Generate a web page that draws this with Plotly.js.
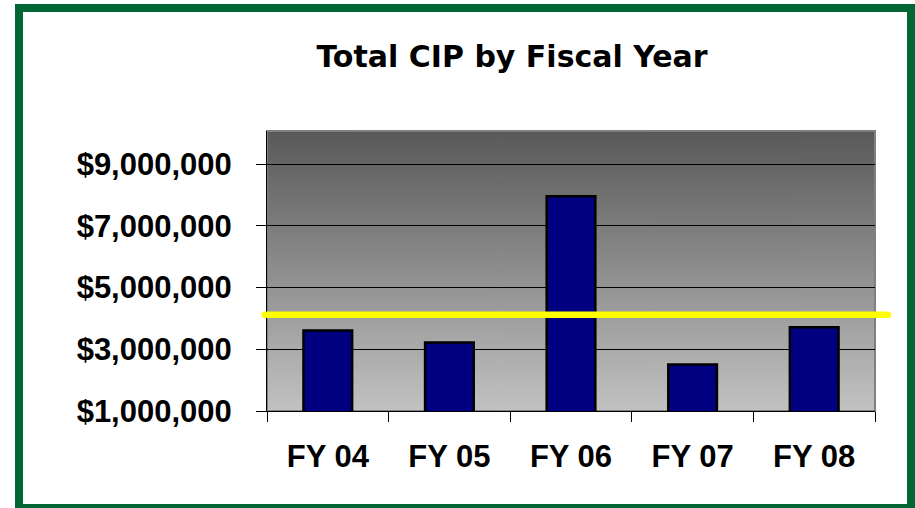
<!DOCTYPE html>
<html>
<head>
<meta charset="utf-8">
<script src="https://cdn.plot.ly/plotly-3.0.1.min.js"></script>
<style>
  html, body { margin: 0; padding: 0; background: #ffffff; overflow: hidden; }
  #wrap { position: relative; width: 915px; height: 508px; overflow: hidden; }
  #chart { width: 915px; height: 508px; }
  #frame { position: absolute; left: 15px; top: 4px; width: 900px; height: 508px;
           box-sizing: border-box; border: 8px solid #006633; pointer-events: none; }
</style>
</head>
<body>
<div id="wrap">
  <div id="chart"></div>
  <div id="frame"></div>
</div>
<script>
// ---- data ----
var categories = ['FY 04', 'FY 05', 'FY 06', 'FY 07', 'FY 08'];
var cipTotals = [3610000, 3220000, 7960000, 2510000, 3710000];
var referenceLevel = 4120000;
var yTickValues = [1000000, 3000000, 5000000, 7000000, 9000000];
var yTickLabels = ['$1,000,000', '$3,000,000', '$5,000,000', '$7,000,000', '$9,000,000'];
var chartTitle = 'Total CIP by Fiscal Year';

// gradient background for the plot area
var cv = document.createElement('canvas');
cv.width = 4; cv.height = 256;
var ctx = cv.getContext('2d');
var g = ctx.createLinearGradient(0, 0, 0, 256);
g.addColorStop(0, '#595959');
g.addColorStop(1, '#c2c2c2');
ctx.fillStyle = g;
ctx.fillRect(0, 0, 4, 256);
var bgUrl = cv.toDataURL('image/png');

var tickFont = {family: 'Arial, "Liberation Sans", sans-serif', size: 31, color: '#000000', weight: 'bold'};

var trace = {
  type: 'bar',
  x: categories,
  y: cipTotals,
  marker: {color: '#000080', line: {color: '#000000', width: 2.5}},
  hoverinfo: 'none'
};

var layout = {
  width: 915,
  height: 508,
  margin: {l: 267, r: 40, t: 131, b: 97, pad: 0},
  paper_bgcolor: '#ffffff',
  plot_bgcolor: 'rgba(0,0,0,0)',
  showlegend: false,
  bargap: 0.6,
  title: {
    text: chartTitle,
    font: {family: '"Comic Sans MS", "DejaVu Sans", sans-serif', size: 30, color: '#000000', weight: 'bold'},
    xref: 'container', yref: 'container',
    x: 512 / 915, xanchor: 'center',
    y: 1 - 56 / 508, yanchor: 'middle'
  },
  xaxis: {
    type: 'category',
    showgrid: false,
    showline: true, linecolor: '#000000', linewidth: 1,
    ticks: 'outside', tickson: 'boundaries', ticklen: 10, tickcolor: '#000000', tickwidth: 1,
    tickfont: tickFont,
    ticklabelstandoff: 18,
    zeroline: false,
    fixedrange: true
  },
  yaxis: {
    range: [1000000, 10070000],
    tickvals: yTickValues,
    ticktext: yTickLabels,
    showgrid: true, gridcolor: '#000000', gridwidth: 1,
    showline: true, linecolor: '#000000', linewidth: 1,
    ticks: 'outside', ticklen: 10, tickcolor: '#000000', tickwidth: 1,
    tickfont: tickFont,
    ticklabelstandoff: 18,
    zeroline: false,
    fixedrange: true
  },
  images: [{
    source: bgUrl, xref: 'paper', yref: 'paper',
    x: 0, y: 1, sizex: 1, sizey: 1, xanchor: 'left', yanchor: 'top',
    sizing: 'stretch', layer: 'below'
  }],
  shapes: [
    {type: 'rect', xref: 'paper', yref: 'paper', x0: 0, x1: 1, y0: 0, y1: 1,
     line: {color: '#808080', width: 2}, fillcolor: 'rgba(0,0,0,0)', layer: 'below'},
    {type: 'line', xref: 'paper', yref: 'y', x0: -0.004, x1: 1.0214,
     y0: referenceLevel, y1: referenceLevel,
     line: {color: '#ffff00', width: 6.5}, layer: 'above'}
  ]
};

Plotly.newPlot('chart', [trace], layout, {displayModeBar: false, staticPlot: true}).then(function () {
  var paths = document.querySelectorAll('.shapelayer path');
  paths.forEach(function (p) { p.style.strokeLinecap = 'round'; });
});
</script>
</body>
</html>
